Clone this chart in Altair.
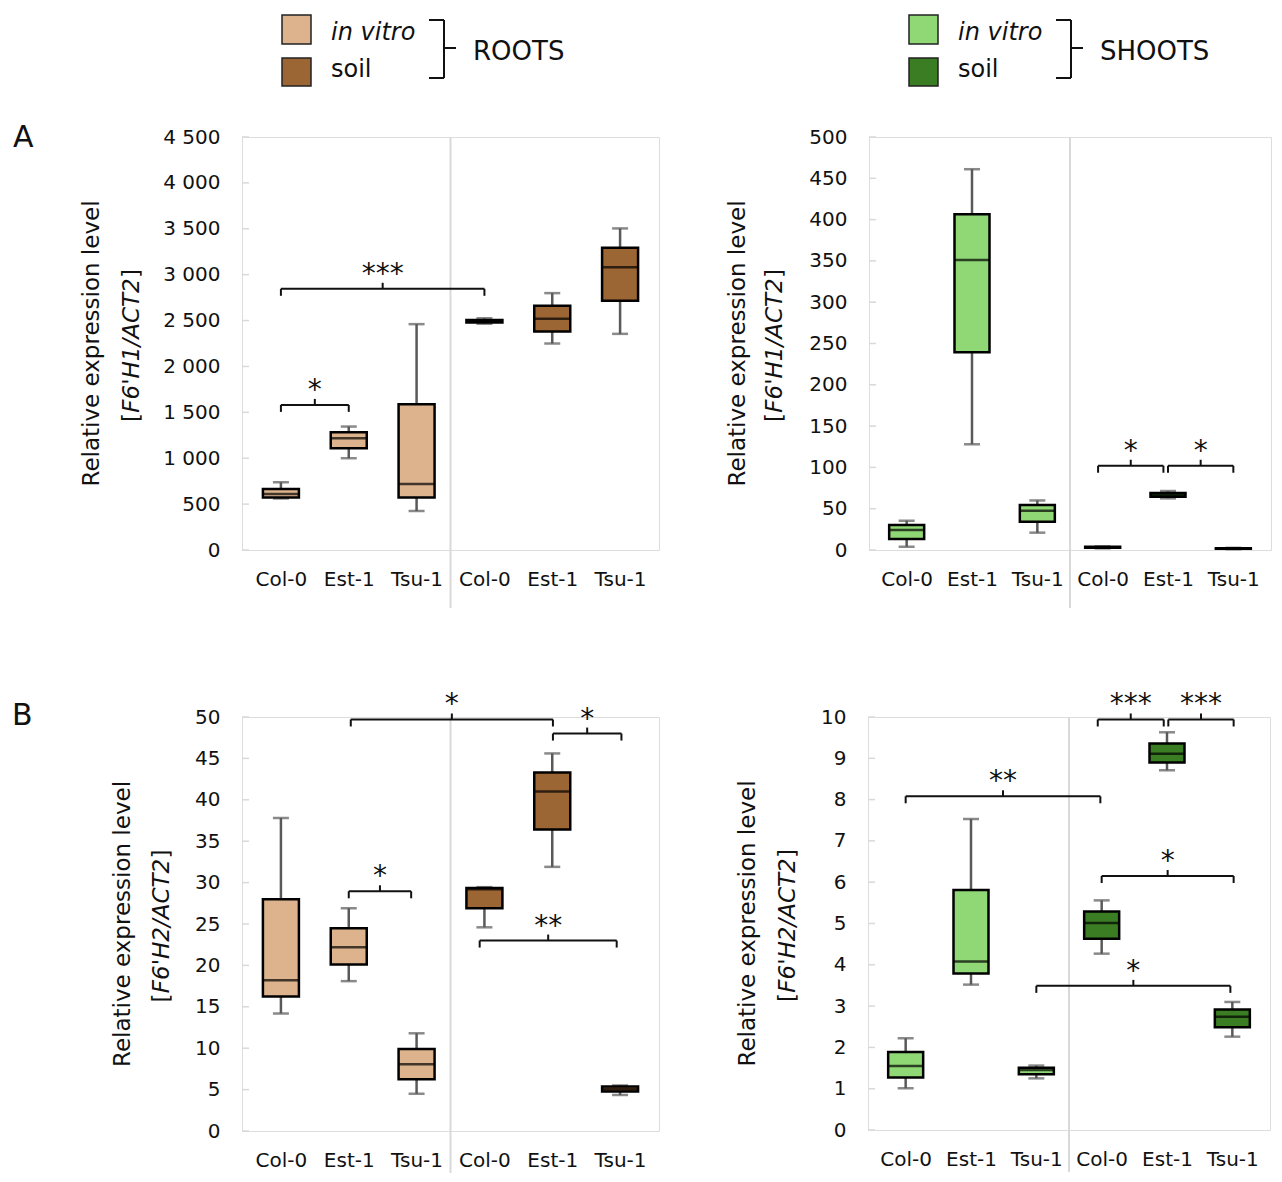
import altair as alt
import pandas as pd

FONT = "DejaVu Sans"
TEXT = "#111111"
FRAME = "#D9D9D9"
WHISKER = "#595959"

GENOTYPES = ["Col-0", "Est-1", "Tsu-1", "Col-0", "Est-1", "Tsu-1"]
CONDITIONS = ["in vitro", "in vitro", "in vitro", "soil", "soil", "soil"]
POSITIONS = [1, 2, 3, 4, 5, 6]
LEGEND_LABELS = ["in vitro", "soil"]

ROOT_COLORS = ["#DCB38D", "#9C6534"]
SHOOT_COLORS = ["#8FD875", "#3B7D23"]

# ---- A: F6'H1 roots ----
A_ROOTS_MIN = [560, 1000, 425, 2465, 2250, 2355]
A_ROOTS_Q1 = [571, 1109, 571, 2478, 2381, 2715]
A_ROOTS_MED = [610, 1218, 720, 2492, 2519, 3082]
A_ROOTS_Q3 = [665, 1283, 1588, 2505, 2661, 3293]
A_ROOTS_MAX = [738, 1345, 2461, 2525, 2799, 3504]
A_ROOTS_TICKS = [0, 500, 1000, 1500, 2000, 2500, 3000, 3500, 4000, 4500]
A_ROOTS_BR_X1 = [1, 1]
A_ROOTS_BR_X2 = [2, 4]
A_ROOTS_BR_Y = [1581, 2846]
A_ROOTS_BR_LABEL = ["*", "***"]

# ---- A: F6'H1 shoots ----
A_SHOOTS_MIN = [4, 128, 21, 2.0, 62.5, 1.0]
A_SHOOTS_Q1 = [13.3, 239.5, 34.3, 2.6, 64.5, 1.5]
A_SHOOTS_MED = [24.2, 351, 47.6, 3.2, 67, 1.8]
A_SHOOTS_Q3 = [30.2, 406.5, 54.4, 3.8, 69, 2.2]
A_SHOOTS_MAX = [35.5, 461, 60, 4.3, 71.4, 2.6]
A_SHOOTS_TICKS = [0, 50, 100, 150, 200, 250, 300, 350, 400, 450, 500]
A_SHOOTS_BR_X1 = [3.93, 5.0]
A_SHOOTS_BR_X2 = [4.93, 6.0]
A_SHOOTS_BR_Y = [102, 102]
A_SHOOTS_BR_LABEL = ["*", "*"]

# ---- B: F6'H2 roots ----
B_ROOTS_MIN = [14.2, 18.1, 4.5, 24.6, 31.9, 4.35]
B_ROOTS_Q1 = [16.25, 20.1, 6.25, 26.9, 36.4, 4.76]
B_ROOTS_MED = [18.2, 22.2, 8.06, 29.2, 41.0, 5.04]
B_ROOTS_Q3 = [28.0, 24.5, 9.9, 29.35, 43.3, 5.36]
B_ROOTS_MAX = [37.8, 26.9, 11.8, 29.45, 45.6, 5.5]
B_ROOTS_TICKS = [0, 5, 10, 15, 20, 25, 30, 35, 40, 45, 50]
B_ROOTS_BR_X1 = [2.0, 2.03, 5.01, 3.93]
B_ROOTS_BR_X2 = [2.92, 5.01, 6.02, 5.95]
B_ROOTS_BR_Y = [28.95, 49.7, 48.0, 23.0]
B_ROOTS_BR_LABEL = ["*", "*", "*", "**"]

# ---- B: F6'H2 shoots ----
B_SHOOTS_MIN = [1.01, 3.52, 1.25, 4.27, 8.71, 2.26]
B_SHOOTS_Q1 = [1.27, 3.79, 1.35, 4.63, 8.9, 2.49]
B_SHOOTS_MED = [1.55, 4.08, 1.45, 5.01, 9.11, 2.74]
B_SHOOTS_Q3 = [1.89, 5.81, 1.51, 5.29, 9.36, 2.92]
B_SHOOTS_MAX = [2.22, 7.53, 1.56, 5.56, 9.63, 3.1]
B_SHOOTS_TICKS = [0, 1, 2, 3, 4, 5, 6, 7, 8, 9, 10]
B_SHOOTS_BR_X1 = [3.94, 5.02, 1.0, 4.0, 3.0]
B_SHOOTS_BR_X2 = [4.95, 6.02, 3.98, 6.02, 5.97]
B_SHOOTS_BR_Y = [9.94, 9.94, 8.08, 6.15, 3.49]
B_SHOOTS_BR_LABEL = ["***", "***", "**", "*", "*"]

DIVIDER = CONDITIONS.count("in vitro") + 0.5

XLABEL_EXPR = "[" + ",".join("'" + g + "'" for g in GENOTYPES) + "][datum.value - 1]"
YLABEL_EXPR = "replace(format(datum.value, ','), ',', ' ')"


def one(text=""):
    return pd.DataFrame({"t": [text]})


def label(text, x, y, size, angle=0, italic=False, align="center", baseline="middle"):
    return alt.Chart(one(text)).mark_text(
        align=align, baseline=baseline, angle=angle, fontSize=size, font=FONT,
        fontStyle="italic" if italic else "normal", color=TEXT,
    ).encode(x=alt.value(x), y=alt.value(y), text="t:N")


def prule(x, y, x2=None, y2=None, color=TEXT, width=2):
    enc = dict(x=alt.value(x), y=alt.value(y))
    if x2 is not None:
        enc["x2"] = alt.value(x2)
    if y2 is not None:
        enc["y2"] = alt.value(y2)
    return alt.Chart(one()).mark_rule(color=color, strokeWidth=width).encode(**enc)


def prect(x, y, x2, y2, fill):
    return alt.Chart(one()).mark_rect(fill=fill, stroke="#222222", strokeWidth=1.5).encode(
        x=alt.value(x), x2=alt.value(x2), y=alt.value(y), y2=alt.value(y2))


def panel(mn, q1, med, q3, mx, ticks, ymax, bx1, bx2, by, blab, colors, W, H,
          gene, letter=None, legend_word=None, t1=-150, t2=-110, divider_ext=58, box=36):
    xs = alt.Scale(domain=[0.5, 6.5], nice=False, zero=False)
    ys = alt.Scale(domain=[0, ymax], nice=False, zero=True)
    xaxis = alt.Axis(values=POSITIONS, labelExpr=XLABEL_EXPR, title=None, grid=False,
                     domain=False, ticks=False, labelPadding=19, labelFontSize=20,
                     labelFlush=False, labelOverlap=False, labelFont=FONT, labelColor=TEXT)
    yaxis = alt.Axis(values=ticks, labelExpr=YLABEL_EXPR, title=None, grid=False,
                     domain=False, ticks=False, labelPadding=22, labelFontSize=20,
                     labelOverlap=False, labelFont=FONT, labelColor=TEXT)

    def X(f):
        return alt.X(f, type="quantitative", scale=xs, axis=xaxis)

    def Y(f):
        return alt.Y(f, type="quantitative", scale=ys, axis=yaxis)

    fills = [colors[LEGEND_LABELS.index(c)] for c in CONDITIONS]
    stats = pd.DataFrame({"pos": POSITIONS, "cond": CONDITIONS, "fill": fills, "mn": mn,
                          "q1": q1, "med": med, "q3": q3, "mx": mx})
    br = pd.DataFrame({"x1": bx1, "x2": bx2, "y": by, "label": blab})
    base = alt.Chart(stats)
    bbase = alt.Chart(br).transform_calculate(xm="(datum.x1 + datum.x2) / 2")

    layers = [
        alt.Chart(pd.DataFrame({"v": ticks})).mark_rule(color=FRAME, strokeWidth=1.5).encode(
            x=alt.value(0), x2=alt.value(7), y=Y("v")),
        alt.Chart(pd.DataFrame({"x": [DIVIDER]})).mark_rule(color=FRAME, strokeWidth=2).encode(
            x=X("x"), y=alt.value(0), y2=alt.value(H + divider_ext)),
        base.mark_rule(color=WHISKER, strokeWidth=2.5).encode(x=X("pos"), y=Y("mn"), y2="q1"),
        base.mark_rule(color=WHISKER, strokeWidth=2.5).encode(x=X("pos"), y=Y("q3"), y2="mx"),
        base.mark_tick(orient="horizontal", size=16, thickness=2.5, color=WHISKER).encode(
            x=X("pos"), y=Y("mn")),
        base.mark_tick(orient="horizontal", size=16, thickness=2.5, color=WHISKER).encode(
            x=X("pos"), y=Y("mx")),
        base.mark_bar(size=box, stroke="black", strokeWidth=2.5).encode(
            x=X("pos"), y=Y("q1"), y2="q3",
            color=alt.Color("fill:N", scale=None, legend=None)),
        base.mark_tick(orient="horizontal", size=box, thickness=2.5, color="black").encode(
            x=X("pos"), y=Y("med")),
        # significance brackets
        bbase.mark_rule(color=TEXT, strokeWidth=2).encode(x=X("x1"), x2="x2", y=Y("y")),
        bbase.mark_rule(color=TEXT, strokeWidth=2, y2Offset=7).encode(x=X("x1"), y=Y("y"), y2="y"),
        bbase.mark_rule(color=TEXT, strokeWidth=2, y2Offset=7).encode(x=X("x2"), y=Y("y"), y2="y"),
        bbase.mark_rule(color=TEXT, strokeWidth=2, y2Offset=-6).encode(x=X("xm"), y=Y("y"), y2="y"),
        bbase.mark_text(fontSize=28, font=FONT, baseline="alphabetic", dy=-6, color=TEXT).encode(
            x=X("xm"), y=Y("y"), text="label:N"),
        # y-axis title
        label("Relative expression level", t1, H / 2, 23, angle=270),
        label(gene, t2, H / 2 + 2, 23, angle=270, italic=True),
        label("[", t2, H / 2 + 2 + 72, 23, angle=270),
        label("]", t2, H / 2 + 2 - 72, 23, angle=270),
    ]
    if letter is not None:
        layers.append(label(letter[0], letter[1], letter[2], 30, align="left"))
    if legend_word is not None:
        layers += [
            prect(40, -122, 69, -93, colors[0]),
            prect(40, -79, 69, -51, colors[1]),
            label(LEGEND_LABELS[0], 89, -104, 24, italic=True, align="left"),
            label(LEGEND_LABELS[1], 89, -67, 24, align="left"),
            prule(187, -117, x2=202),
            prule(202, -117, y2=-59),
            prule(187, -59, x2=202),
            prule(202, -89, x2=214),
            label(legend_word, 231, -85, 26, align="left"),
        ]
    return alt.layer(*layers).properties(width=W, height=H)


pA_roots = panel(A_ROOTS_MIN, A_ROOTS_Q1, A_ROOTS_MED, A_ROOTS_Q3, A_ROOTS_MAX,
                 A_ROOTS_TICKS, 4500, A_ROOTS_BR_X1, A_ROOTS_BR_X2, A_ROOTS_BR_Y,
                 A_ROOTS_BR_LABEL, ROOT_COLORS, 417, 413, "F6'H1/ACT2",
                 letter=("A", -229, 1), legend_word="ROOTS", t1=-150, t2=-110)
pA_shoots = panel(A_SHOOTS_MIN, A_SHOOTS_Q1, A_SHOOTS_MED, A_SHOOTS_Q3, A_SHOOTS_MAX,
                  A_SHOOTS_TICKS, 500, A_SHOOTS_BR_X1, A_SHOOTS_BR_X2, A_SHOOTS_BR_Y,
                  A_SHOOTS_BR_LABEL, SHOOT_COLORS, 402, 413, "F6'H1/ACT2",
                  legend_word="SHOOTS", t1=-131, t2=-94, box=35)
pB_roots = panel(B_ROOTS_MIN, B_ROOTS_Q1, B_ROOTS_MED, B_ROOTS_Q3, B_ROOTS_MAX,
                 B_ROOTS_TICKS, 50, B_ROOTS_BR_X1, B_ROOTS_BR_X2, B_ROOTS_BR_Y,
                 B_ROOTS_BR_LABEL, ROOT_COLORS, 417, 414, "F6'H2/ACT2",
                 letter=("B", -230, -1.5), t1=-119, t2=-80, divider_ext=42)
pB_shoots = panel(B_SHOOTS_MIN, B_SHOOTS_Q1, B_SHOOTS_MED, B_SHOOTS_Q3, B_SHOOTS_MAX,
                  B_SHOOTS_TICKS, 10, B_SHOOTS_BR_X1, B_SHOOTS_BR_X2, B_SHOOTS_BR_Y,
                  B_SHOOTS_BR_LABEL, SHOOT_COLORS, 402, 413, "F6'H2/ACT2",
                  t1=-120, t2=-80, divider_ext=42, box=35)

rowA = alt.hconcat(pA_roots, pA_shoots, spacing=66)
rowB = alt.hconcat(pB_roots, pB_shoots, spacing=76)
chart = alt.vconcat(rowA, rowB, spacing=80).properties(
    padding={"left": 3, "top": 5, "right": 0, "bottom": 0}
).configure_view(stroke=FRAME, strokeWidth=2).configure(font=FONT)

chart.save("out.html", embed_options={"renderer": "svg", "actions": False})
